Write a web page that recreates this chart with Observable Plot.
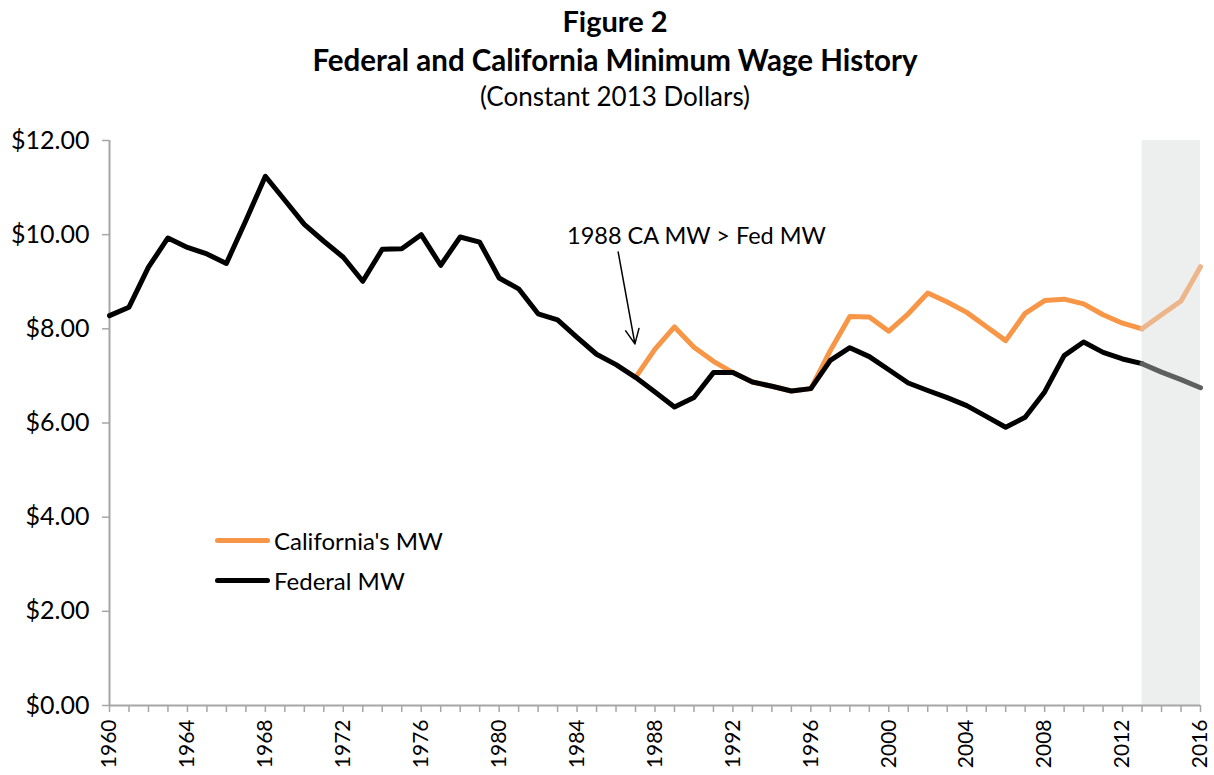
<!DOCTYPE html>
<html><head><meta charset="utf-8">
<script src="https://cdn.jsdelivr.net/npm/d3@7"></script>
<script src="https://cdn.jsdelivr.net/npm/@observablehq/plot@0.6"></script>
<style>
body{margin:0;background:#fff;font-family:Lato,"Open Sans",sans-serif;}
#wrap{position:relative;width:1214px;height:775px;overflow:hidden;background:#fff;}
.t{position:absolute;left:0;width:1230px;text-align:center;color:#000;white-space:nowrap;line-height:1;}
#chart{position:absolute;left:0;top:120px;}
.lg{position:absolute;left:215px;display:flex;align-items:center;font-size:24px;color:#000;}
.lg span.sw{display:inline-block;width:55px;height:5px;border-radius:3px;margin-right:4px;}
</style></head>
<body><div id="wrap">
<div class="t" style="top:6px;font-weight:bold;font-size:29px">Figure 2</div>
<div class="t" style="top:45px;font-weight:bold;font-size:29.5px">Federal and California Minimum Wage History</div>
<div class="t" style="top:83px;font-size:26px">(Constant 2013 Dollars)</div>
<div id="chart"></div>
<div class="lg" style="top:526px"><span class="sw" style="background:#F79646"></span>California's MW</div>
<div class="lg" style="top:566px"><span class="sw" style="background:#000"></span>Federal MW</div>
</div>
<script>
const federalYears = d3.range(1960, 2017);
const federalValues = [8.28, 8.46, 9.31, 9.93, 9.73, 9.59, 9.39, 10.30, 11.24, 10.73,
  10.22, 9.86, 9.52, 9.01, 9.69, 9.70, 10.00, 9.35, 9.95, 9.84,
  9.08, 8.85, 8.32, 8.19, 7.82, 7.46, 7.24, 6.97, 6.66, 6.34,
  6.54, 7.07, 7.07, 6.87, 6.78, 6.68, 6.73, 7.33, 7.60, 7.41,
  7.13, 6.85, 6.69, 6.54, 6.37, 6.14, 5.91, 6.12, 6.66, 7.43,
  7.72, 7.50, 7.36, 7.26, 7.08, 6.92, 6.75];
const californiaYears = d3.range(1987, 2017);
const californiaValues = [6.97, 7.57, 8.04, 7.61, 7.31, 7.07, 6.87, 6.78, 6.68, 6.73,
  7.54, 8.26, 8.25, 7.95, 8.32, 8.76, 8.57, 8.35, 8.05, 7.75,
  8.33, 8.60, 8.63, 8.53, 8.30, 8.12, 8.00, 8.30, 8.59, 9.32];
const projectionStart = 2013;
const projectionEnd = 2016;
const yTicks = [0, 2, 4, 6, 8, 10, 12];
const xLabelYears = d3.range(1960, 2017, 4);
const annotationText = ["1988 CA MW > Fed MW"];
const annotationTextPos = [{year: 1990.13, value: 9.96}];
const annotationArrow = [{year1: 1986.11, value1: 9.63, year2: 1986.97, value2: 7.68}];

const federal = federalYears.map((year, i) => ({year, value: federalValues[i]}));
const california = californiaYears.map((year, i) => ({year, value: californiaValues[i]}));
const hist = d => d.year <= projectionStart;
const proj = d => d.year >= projectionStart;

const axisGray = "#A6A6A6";
const chart = Plot.plot({
  width: 1214, height: 655,
  marginTop: 20, marginBottom: 70, marginLeft: 109, marginRight: 14,
  style: {fontFamily: "Lato, 'Open Sans', sans-serif", fontSize: "24px", color: "#000", background: "#fff"},
  x: {type: "linear", domain: [1960, 2016]},
  y: {domain: [0, 12]},
  marks: [
    Plot.rect([{x1: projectionStart, x2: projectionEnd}], {x1: "x1", x2: "x2", y1: 0, y2: 12, fill: "#EDEFEE"}),
    Plot.axisY({ticks: yTicks, tickFormat: d => "$" + d.toFixed(2), tickSize: 7, tickPadding: 13, stroke: axisGray, strokeWidth: 1.5, fill: "#000", fontSize: 25, label: null}),
    Plot.axisX({ticks: federalYears, tickFormat: d => xLabelYears.includes(d) ? String(d) : "", tickRotate: -90, tickSize: 7, tickPadding: 7, stroke: axisGray, strokeWidth: 1.5, fill: "#000", fontSize: 21, label: null}),
    Plot.ruleX([1960], {stroke: axisGray, strokeWidth: 2}),
    Plot.ruleY([0], {stroke: axisGray, strokeWidth: 2}),
    Plot.line(california.filter(hist), {x: "year", y: "value", stroke: "#F79646", strokeWidth: 5, strokeLinejoin: "round"}),
    Plot.line(california.filter(proj), {x: "year", y: "value", stroke: "#EDB68A", strokeWidth: 5, strokeLinejoin: "round"}),
    Plot.line(federal.filter(hist), {x: "year", y: "value", stroke: "#000", strokeWidth: 5, strokeLinejoin: "round"}),
    Plot.line(federal.filter(proj), {x: "year", y: "value", stroke: "#5E5E5E", strokeWidth: 5, strokeLinejoin: "round"}),
    Plot.arrow(annotationArrow, {x1: "year1", y1: "value1", x2: "year2", y2: "value2", stroke: "#000", strokeWidth: 1.5, headLength: 16, headAngle: 50}),
    Plot.text(annotationText, {x: () => annotationTextPos[0].year, y: () => annotationTextPos[0].value, text: d => d, fontSize: 23.5, fill: "#000", lineAnchor: "middle", textAnchor: "middle"})
  ]
});
document.getElementById("chart").appendChild(chart);
</script>
</body></html>
